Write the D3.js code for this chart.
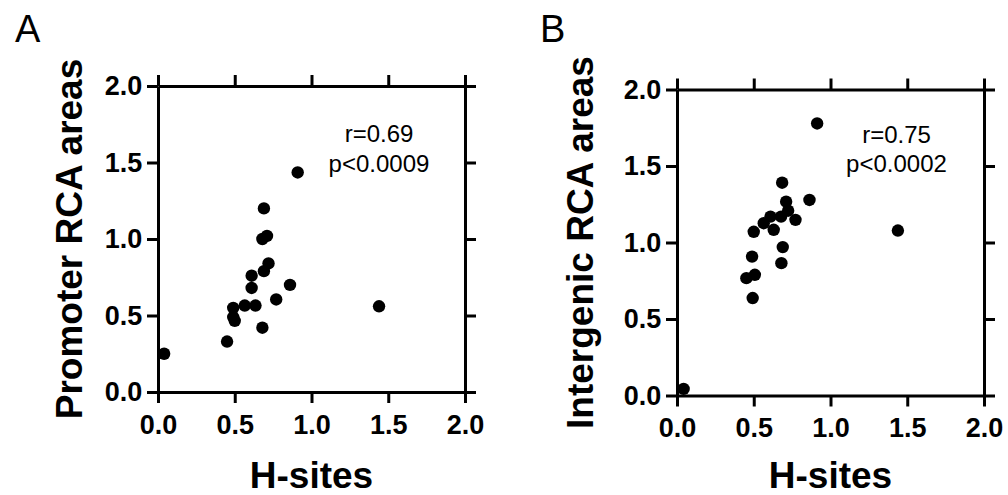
<!DOCTYPE html>
<html>
<head>
<meta charset="utf-8">
<script src="https://cdn.jsdelivr.net/npm/d3@7"></script>
<style>
  html, body { margin: 0; padding: 0; background: #fff; }
  svg { display: block; font-family: "Liberation Sans", Arial, sans-serif; }
</style>
</head>
<body>
<svg id="chart" width="1008" height="495"></svg>
<script>
// ---- Data ----
const hSitesA = [0.04, 0.45, 0.49, 0.49, 0.50, 0.565, 0.635, 0.61, 0.61, 0.68, 0.69, 0.68, 0.71, 0.69, 0.72, 0.77, 0.86, 0.91, 1.44];
const promoterRCA = [0.25, 0.33, 0.55, 0.49, 0.465, 0.565, 0.565, 0.68, 0.76, 0.42, 1.20, 1.00, 1.02, 0.79, 0.84, 0.605, 0.70, 1.435, 0.56];

const hSitesB = [0.043, 0.452, 0.507, 0.493, 0.489, 0.50, 0.565, 0.609, 0.63, 0.685, 0.711, 0.724, 0.678, 0.772, 0.689, 0.68, 0.863, 0.913, 1.439];
const intergenicRCA = [0.043, 0.767, 0.789, 0.637, 0.908, 1.07, 1.126, 1.169, 1.083, 1.391, 1.267, 1.208, 1.169, 1.148, 0.97, 0.865, 1.278, 1.778, 1.078];

const tickValues = [0, 0.5, 1.0, 1.5, 2.0];
const xTitle = "H-sites";
const yTitles = ["Promoter RCA areas", "Intergenic RCA areas"];
const panelLetters = ["A", "B"];
const statsA = ["r=0.69", "p<0.0009"];
const statsB = ["r=0.75", "p<0.0002"];

// ---- Layout ----
const svg = d3.select("#chart");
const panels = [
  { x: hSitesA, y: promoterRCA, left: 158, top: 86, w: 307, h: 306, ytitle: yTitles[0], ytx: 82,
    letter: panelLetters[0], lx: 15, stats: statsA, sx: 379, sy: [142, 171.5], xtY: 487.5 },
  { x: hSitesB, y: intergenicRCA, left: 677, top: 89.5, w: 307, h: 306, ytitle: yTitles[1], ytx: 593,
    letter: panelLetters[1], lx: 540, stats: statsB, sx: 896.5, sy: [143.3, 171.7], xtY: 488 }
];

const fmt = d3.format(".1f");
const TICK = 11;
const SW = 3;

panels.forEach(p => {
  const xs = d3.scaleLinear().domain([0, 2]).range([p.left, p.left + p.w]);
  const ys = d3.scaleLinear().domain([0, 2]).range([p.top + p.h, p.top]);

  const styleAxis = g => {
    g.selectAll("path.domain").attr("stroke", "#000").attr("stroke-width", SW);
    g.selectAll(".tick line").attr("stroke", "#000").attr("stroke-width", SW);
  };
  const styleLabels = g => g.selectAll("text")
    .attr("font-size", 27).attr("font-weight", "bold").attr("fill", "#000")
    .attr("font-family", "'Liberation Sans', Arial, sans-serif");

  // bottom axis with labels
  svg.append("g")
    .attr("transform", `translate(0,${p.top + p.h})`)
    .call(d3.axisBottom(xs).tickValues(tickValues).tickFormat(fmt).tickSize(TICK).tickSizeOuter(0).tickPadding(11.8))
    .call(styleAxis).call(styleLabels);

  // left axis with labels
  svg.append("g")
    .attr("transform", `translate(${p.left},0)`)
    .call(d3.axisLeft(ys).tickValues(tickValues).tickFormat(fmt).tickSize(TICK).tickSizeOuter(0).tickPadding(4.8))
    .call(styleAxis).call(styleLabels);

  // top mirror axis
  svg.append("g")
    .attr("transform", `translate(0,${p.top})`)
    .call(d3.axisTop(xs).tickValues(tickValues).tickFormat("").tickSize(TICK).tickSizeOuter(0))
    .call(styleAxis);

  // right mirror axis
  svg.append("g")
    .attr("transform", `translate(${p.left + p.w},0)`)
    .call(d3.axisRight(ys).tickValues(tickValues).tickFormat("").tickSize(TICK).tickSizeOuter(0))
    .call(styleAxis);

  // points
  svg.append("g").selectAll("circle")
    .data(p.x.map((v, i) => [v, p.y[i]]))
    .join("circle")
    .attr("cx", d => xs(d[0]))
    .attr("cy", d => ys(d[1]))
    .attr("r", 6.2)
    .attr("fill", "#000");

  // x title
  svg.append("text")
    .attr("x", p.left + p.w / 2).attr("y", p.xtY)
    .attr("text-anchor", "middle")
    .attr("font-size", 37).attr("font-weight", "bold")
    .text(xTitle);

  // y title
  svg.append("text")
    .attr("transform", `translate(${p.ytx},${p.top + p.h / 2}) rotate(-90)`)
    .attr("text-anchor", "middle")
    .attr("font-size", 37).attr("font-weight", "bold")
    .text(p.ytitle);

  // panel letter
  svg.append("text")
    .attr("x", p.lx).attr("y", 42)
    .attr("font-size", 38)
    .text(p.letter);

  // stats annotation
  p.stats.forEach((s, i) => {
    svg.append("text")
      .attr("x", p.sx).attr("y", p.sy[i])
      .attr("text-anchor", "middle")
      .attr("font-size", 24)
      .text(s);
  });
});
</script>
</body>
</html>
